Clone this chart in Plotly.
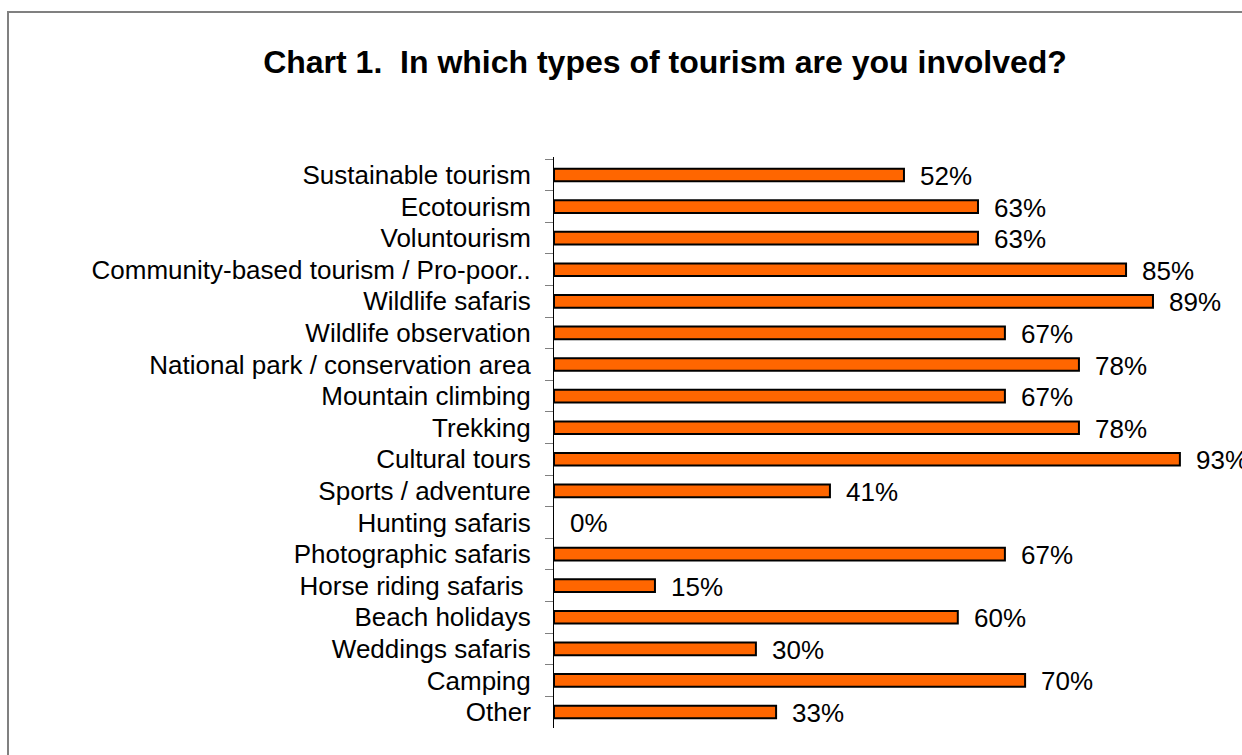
import plotly.graph_objects as go

categories = [
    "Sustainable tourism", "Ecotourism", "Voluntourism",
    "Community-based tourism / Pro-poor..", "Wildlife safaris",
    "Wildlife observation", "National park / conservation area",
    "Mountain climbing", "Trekking", "Cultural tours", "Sports / adventure",
    "Hunting safaris", "Photographic safaris", "Horse riding safaris ",
    "Beach holidays", "Weddings safaris", "Camping", "Other",
]
values = [52, 63, 63, 85, 89, 67, 78, 67, 78, 93, 41, 0, 67, 15, 60, 30, 70, 33]
value_labels = [f"{v}%" for v in values]

W, H = 1242, 755
L, R, T, B = 554, 15, 157, 27
pw, ph = W - L - R, H - T - B
FONT = "Liberation Sans, Arial, sans-serif"

fig = go.Figure()
fig.add_trace(go.Bar(
    x=values, y=categories, orientation="h",
    marker=dict(
        color="#FF6600",
        line=dict(color="#000000", width=[2 if v > 0 else 0 for v in values]),
    ),
    width=0.4, hoverinfo="skip",
))

for c, v, t in zip(categories, values, value_labels):
    fig.add_annotation(
        x=v, y=c, xref="x", yref="y", text=t, showarrow=False,
        xanchor="left", yanchor="middle", xshift=14, yshift=-1,
        font=dict(family=FONT, size=26, color="#000000"),
    )

def px_x(p):
    return (p - L) / pw

def px_y(p):
    return (H - B - p) / ph

fig.add_shape(
    type="rect", xref="paper", yref="paper",
    x0=px_x(8), x1=px_x(1260), y0=px_y(12), y1=px_y(775),
    line=dict(color="#808080", width=2), fillcolor="rgba(0,0,0,0)", layer="below",
)

fig.update_layout(
    width=W, height=H,
    margin=dict(l=L, r=R, t=T, b=B, pad=0),
    paper_bgcolor="white", plot_bgcolor="white",
    showlegend=False,
    font=dict(family=FONT, size=26, color="#000000"),
    title=dict(
        text="Chart 1.\u00a0 In which types of tourism are you involved?",
        x=665 / W, xanchor="center", xref="container",
        y=1 - 62 / H, yanchor="middle", yref="container",
        font=dict(family=FONT, size=32, color="#000000", weight="bold"),
    ),
    xaxis=dict(range=[0, 100], visible=False, fixedrange=True),
    yaxis=dict(
        autorange="reversed", type="category",
        showline=True, linecolor="#000000", linewidth=1,
        ticks="outside", ticklen=8, tickcolor="#808080", tickwidth=1,
        tickson="boundaries", ticklabelstandoff=17,
        showgrid=False, zeroline=False, fixedrange=True,
        tickfont=dict(family=FONT, size=26, color="#000000"),
    ),
)

fig.write_html(
    "out.html",
    config={"displayModeBar": False},
    post_script="document.body.style.margin='0';document.body.style.overflow='hidden';",
)
